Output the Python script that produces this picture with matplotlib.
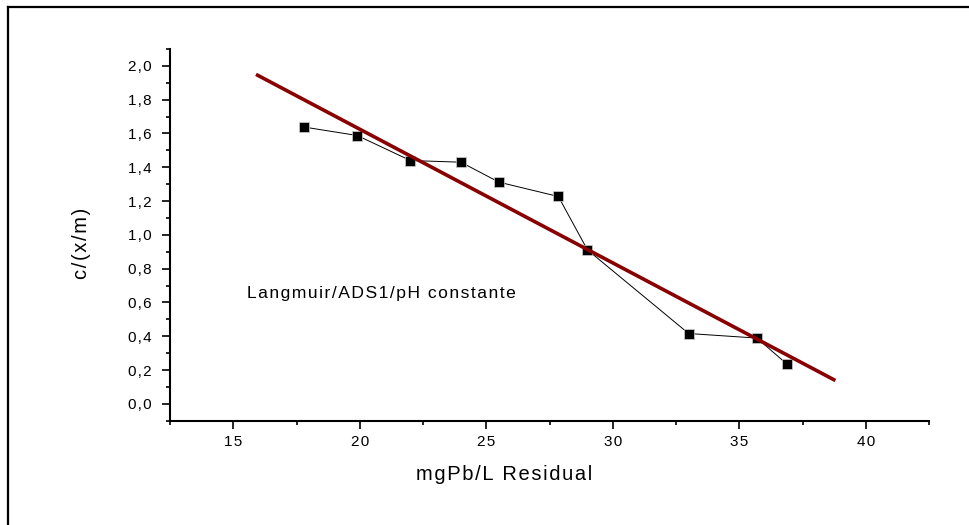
import matplotlib.pyplot as plt
import numpy as np
from matplotlib.lines import Line2D
from matplotlib.ticker import FuncFormatter, MultipleLocator

plt.rcParams['font.family'] = ['Liberation Sans', 'DejaVu Sans']

# isoterma de Langmuir: Pb residual (mg/L) contra c/(x/m)
residual = [17.8, 19.9, 22.0, 24.0, 25.5, 27.85, 29.0, 33.0, 35.7, 36.9]
c_xm = [1.638, 1.588, 1.44, 1.43, 1.312, 1.227, 0.911, 0.416, 0.389, 0.233]
fit_range = [15.9, 38.8]

HAIR = '\u200a'


def spaced(s, sep=HAIR):
    # texto con espaciado entre letras
    return sep.join(s)


fig = plt.figure(figsize=(9.69, 5.25), dpi=100)
ax = fig.add_axes([170 / 969, 1 - 420.7 / 525, 759 / 969, 371.7 / 525])

# recta de ajuste lineal
slope, intercept = np.polyfit(residual, c_xm, 1)
xf = np.array(fit_range)
ax.plot(residual, c_xm, color='black', lw=0.7, marker='s', ms=7.6,
        mfc='black', mec='#cfcfcf', mew=0.5, zorder=2)
ax.plot(xf, slope * xf + intercept, color='#880000', lw=2.6,
        solid_capstyle='butt', zorder=3)

ax.text(15.55, 0.627, spaced('Langmuir/ADS1/pH constante'),
        fontsize=12.6, va='baseline', ha='left')

ax.set_xlim(12.5, 42.5)
ax.set_ylim(-0.1, 2.1)
ax.xaxis.set_major_locator(MultipleLocator(5))
ax.xaxis.set_minor_locator(MultipleLocator(2.5))
ax.yaxis.set_major_locator(MultipleLocator(0.2))
ax.yaxis.set_minor_locator(MultipleLocator(0.1))
ax.xaxis.set_major_formatter(FuncFormatter(lambda v, p: spaced(f'{v:.0f}')))
ax.yaxis.set_major_formatter(
    FuncFormatter(lambda v, p: spaced(f'{v:.1f}'.replace('.', ',').replace('-0,0', '0,0'))))

for side in ['top', 'right']:
    ax.spines[side].set_visible(False)
for side in ['left', 'bottom']:
    ax.spines[side].set_linewidth(1.5)

ax.tick_params(which='major', direction='out', length=6, width=1.2, labelsize=11)
ax.tick_params(which='minor', direction='out', length=3, width=1.2)
ax.tick_params(axis='y', which='major', pad=7)
ax.tick_params(axis='x', which='major', pad=4)

ax.set_xlabel(spaced('mgPb/L Residual'), fontsize=14.5, ha='center', va='center')
ax.xaxis.set_label_coords(0.44, -0.146)
ax.set_ylabel(spaced('c/(x/m)'), fontsize=14.5, ha='center', va='center')
ax.yaxis.set_label_coords(-0.117, 0.478)

# marco exterior
fx, fy = 8 / 969, 1 - 7 / 525
fig.add_artist(Line2D([fx, 1], [fy, fy], transform=fig.transFigure, color='black', lw=1.6))
fig.add_artist(Line2D([fx, fx], [0, fy], transform=fig.transFigure, color='black', lw=1.6))

fig.savefig('out.png', dpi=100)
